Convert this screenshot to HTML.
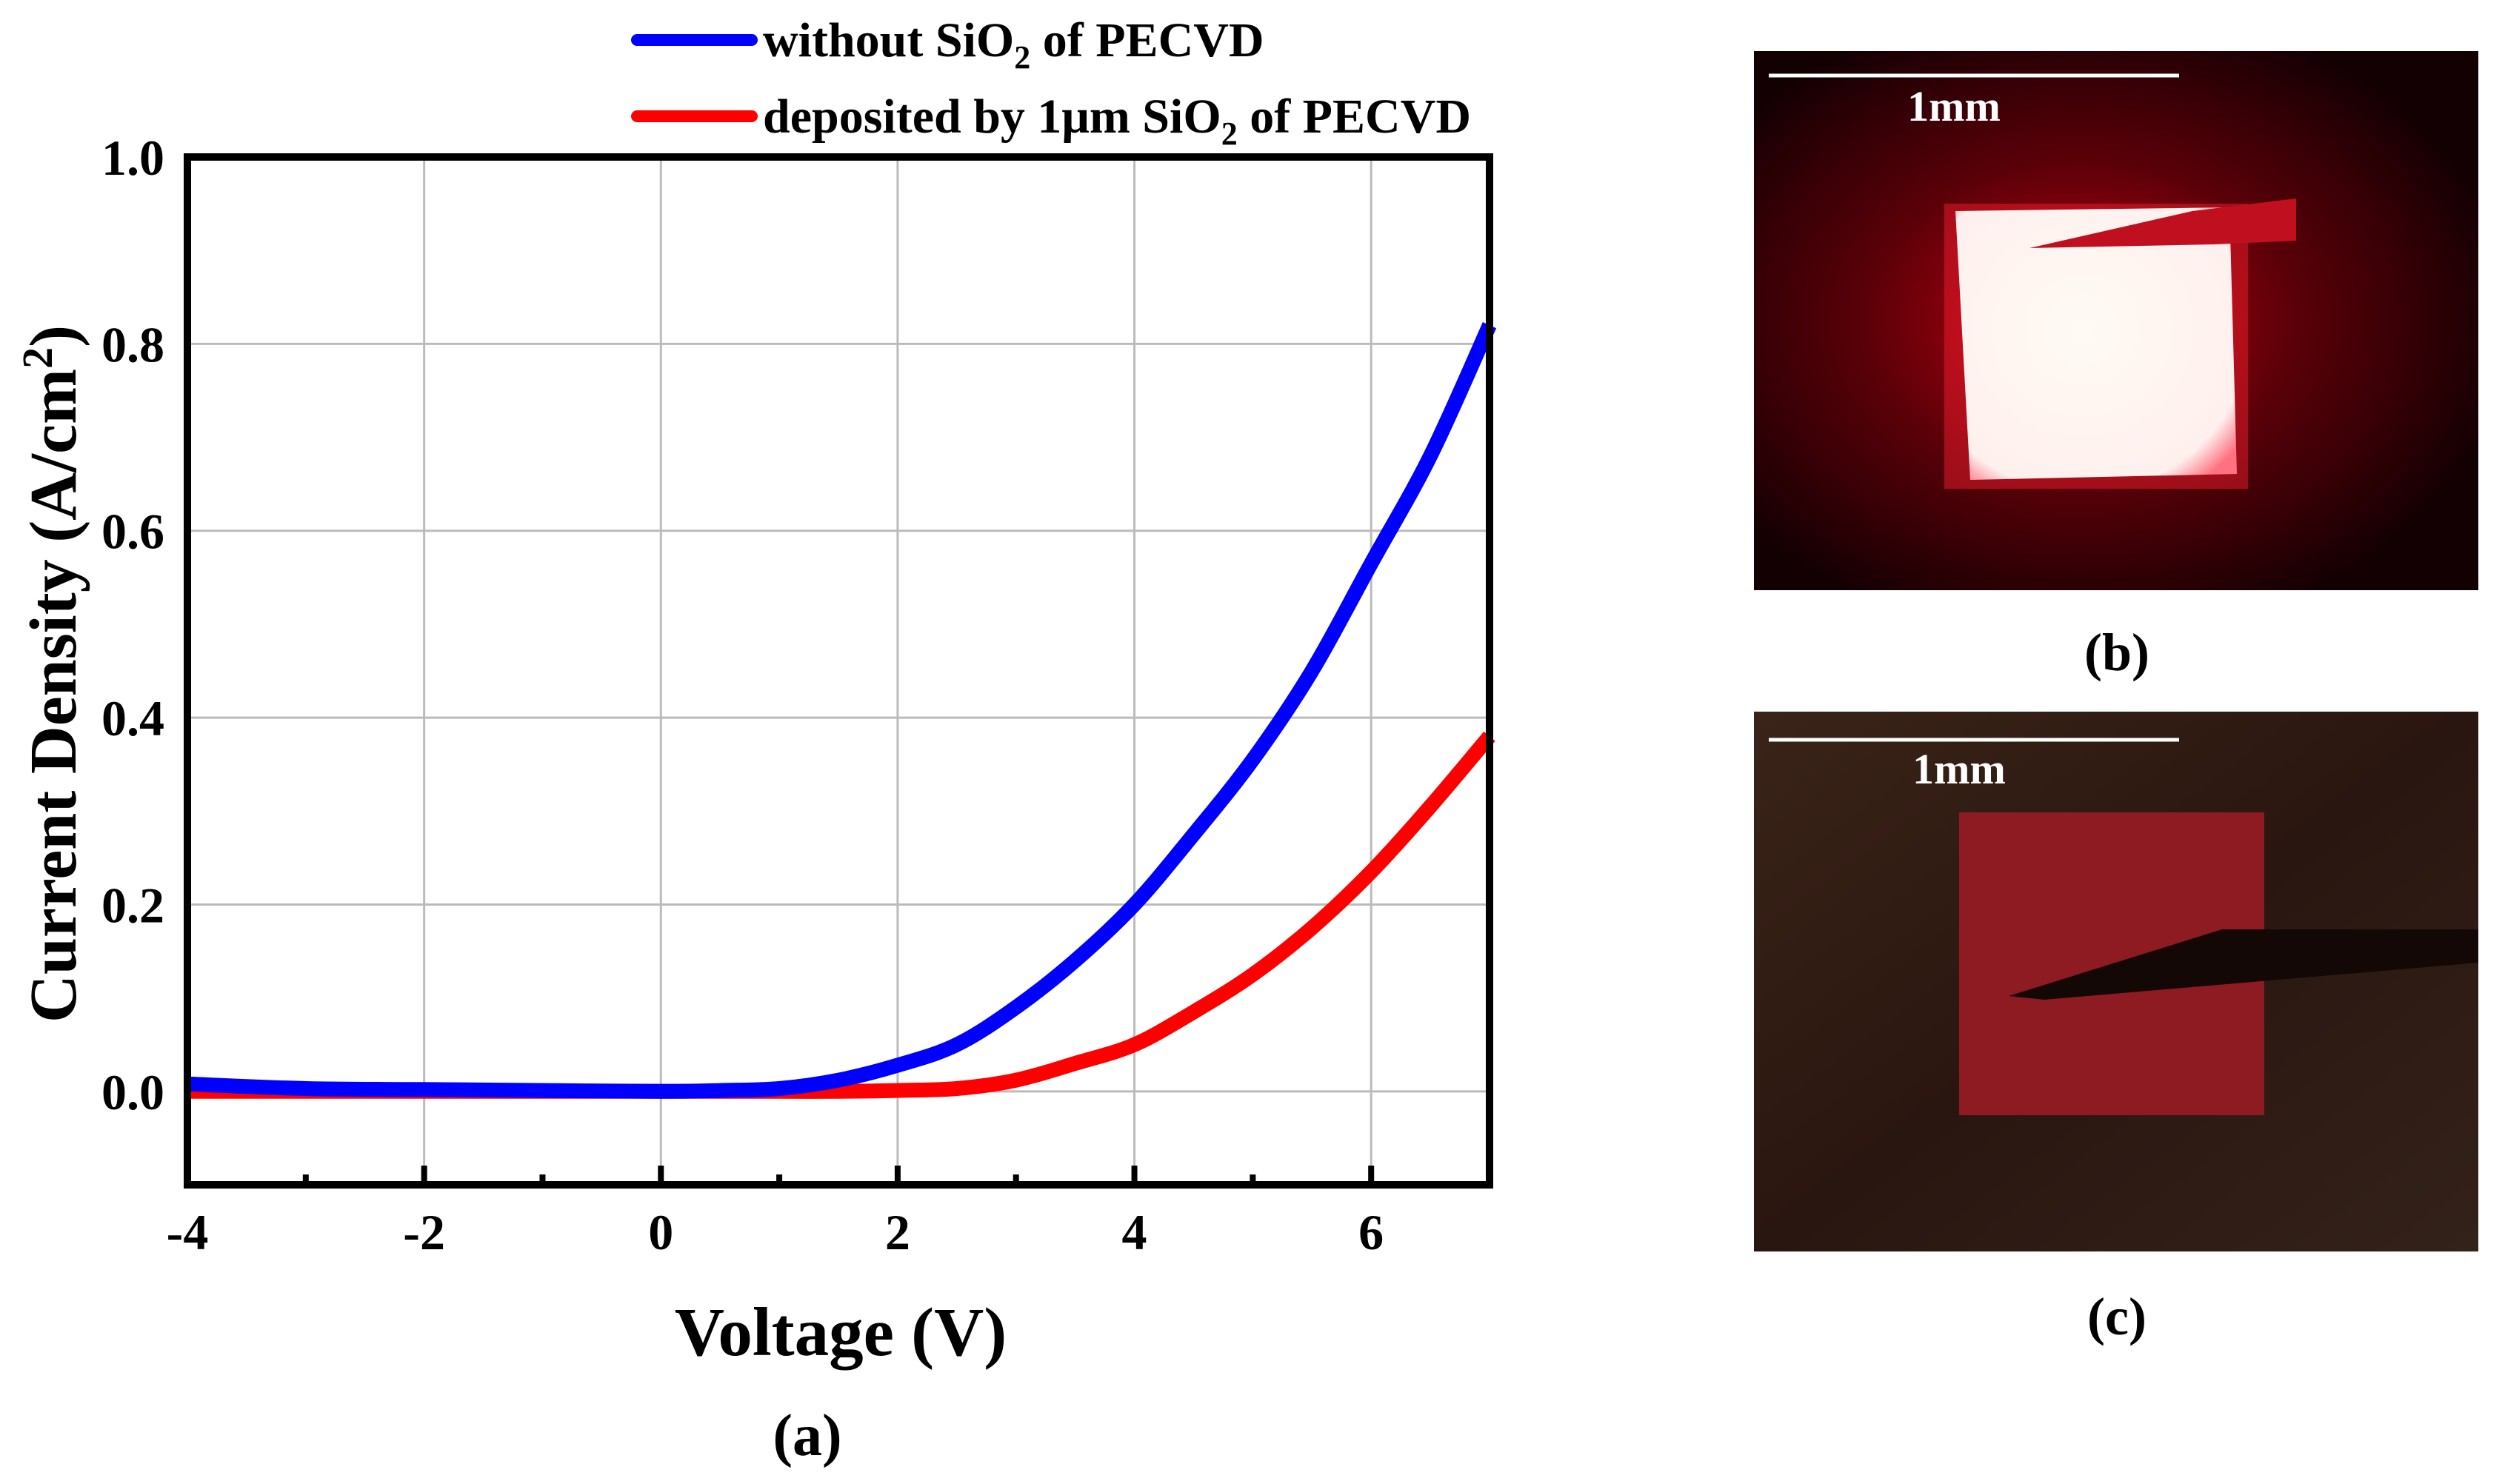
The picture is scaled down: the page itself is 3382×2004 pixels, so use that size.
<!DOCTYPE html>
<html><head><meta charset="utf-8"><style>
html,body{margin:0;padding:0;background:#fff;}
svg{display:block;}
text{font-family:"Liberation Serif",serif;font-weight:bold;}
</style></head><body>
<svg id="fig" width="3382" height="2004" viewBox="0 0 3382 2004" xmlns="http://www.w3.org/2000/svg">
<defs>
<radialGradient id="glowB" cx="0.45" cy="0.5" r="0.6">
<stop offset="0" stop-color="#c00010"/><stop offset="0.5" stop-color="#5a0008"/><stop offset="1" stop-color="#120003"/>
</radialGradient>
<radialGradient id="sqB" cx="0.45" cy="0.45" r="0.7">
<stop offset="0" stop-color="#fffaf4"/><stop offset="0.85" stop-color="#fff0ee"/><stop offset="1" stop-color="#ff7080"/>
</radialGradient>
<linearGradient id="bgC" x1="0" y1="0" x2="1" y2="1">
<stop offset="0" stop-color="#3a2418"/><stop offset="0.5" stop-color="#2a1610"/><stop offset="1" stop-color="#33221a"/>
</linearGradient>
</defs>
<g id="chart"></g>
<g>
<rect x="2368" y="69" width="978" height="728" fill="url(#glowB)"/>
<rect x="2625" y="275" width="410" height="385" fill="#ff2030" opacity="0.45"/>
<polygon points="2640,285 3010,280 3020,640 2660,648" fill="url(#sqB)"/>
<polygon points="2740,335 2960,285 3100,268 3100,325 2990,330" fill="#c01020"/>
<line x1="2388" y1="102" x2="2942" y2="102" stroke="#fff" stroke-width="5"/>
<text x="2638" y="163" font-size="58" fill="#fff" text-anchor="middle">1mm</text>
</g>
<text x="2858" y="905" font-size="72" text-anchor="middle" fill="#000">(b)</text>
<g>
<rect x="2368" y="961" width="978" height="729" fill="url(#bgC)"/>
<rect x="2645" y="1097" width="412" height="409" fill="#8e1a22"/>
<polygon points="2712,1345 3000,1255 3346,1255 3346,1300 2760,1350" fill="#140806"/>
<line x1="2388" y1="999" x2="2942" y2="999" stroke="#fff" stroke-width="5"/>
<text x="2645" y="1058" font-size="58" fill="#fff" text-anchor="middle">1mm</text>
</g>
<text x="2858" y="1802" font-size="72" text-anchor="middle" fill="#000">(c)</text>
</svg>
<script>
const voltage = [-4,-3,-2,-1,0,0.5,1,1.5,2,2.5,3,3.5,4,4.5,5,5.5,6,6.5,7];
const blueValues = [0.008,0.003,0.002,0.001,0,0.001,0.003,0.012,0.028,0.05,0.09,0.14,0.2,0.275,0.355,0.45,0.565,0.68,0.82];
const redValues = [0,0,0,0,0,0,0,0,0.001,0.003,0.012,0.03,0.05,0.085,0.125,0.175,0.235,0.305,0.38];
const xTicks = [-4,-2,0,2,4,6];
const xMinor = [-3,-1,1,3,5];
const yTicks = [0.0,0.2,0.4,0.6,0.8,1.0];
const yTickLabels = ["0.0","0.2","0.4","0.6","0.8","1.0"];

const NS="http://www.w3.org/2000/svg";
const L=253,R=2011,T=212,B=1600,xmin=-4,xmax=7,ymin=-0.1,ymax=1.0;
const sx=v=>L+(v-xmin)/(xmax-xmin)*(R-L);
const sy=v=>B-(v-ymin)/(ymax-ymin)*(B-T);
const g=document.getElementById('chart');
function mk(tag,attrs,parent){const e=document.createElementNS(NS,tag);for(const k in attrs)e.setAttribute(k,attrs[k]);(parent||g).appendChild(e);return e;}

xTicks.slice(1).forEach(v=>{const e=mk('line',{x1:sx(v),x2:sx(v),y1:T,y2:B,stroke:'#bbb','stroke-width':3});

});
yTicks.slice(0,5).forEach(v=>{const e=mk('line',{x1:L,x2:R,y1:sy(v),y2:sy(v),stroke:'#bbb','stroke-width':3});

});

function series(vals,color,name){
 const P=voltage.map((x,i)=>[sx(x),sy(vals[i])]);
 let d='M'+P[0][0].toFixed(1)+','+P[0][1].toFixed(1);
 for(let i=0;i<P.length-1;i++){
  const p0=P[Math.max(0,i-1)],p1=P[i],p2=P[i+1],p3=P[Math.min(P.length-1,i+2)];
  const c1=[p1[0]+(p2[0]-p0[0])/6,p1[1]+(p2[1]-p0[1])/6];
  const c2=[p2[0]-(p3[0]-p1[0])/6,p2[1]-(p3[1]-p1[1])/6];
  d+=' C'+c1.map(n=>n.toFixed(1)).join(',')+' '+c2.map(n=>n.toFixed(1)).join(',')+' '+p2.map(n=>n.toFixed(1)).join(',');
 }
 const p=mk('path',{d:d,fill:'none',stroke:color,'stroke-width':20,'stroke-linejoin':'round'});
 
 
}
series(redValues,'#ff0000','series-deposited-sio2');
series(blueValues,'#0000ff','series-without-sio2');

const fr=mk('rect',{x:L,y:T,width:R-L,height:B-T,fill:'none',stroke:'#000','stroke-width':10});



xTicks.forEach(v=>{
 const t=mk('line',{x1:sx(v),x2:sx(v),y1:B,y2:B-26,stroke:'#000','stroke-width':8});
 
 
 const l=mk('text',{x:sx(v),y:1687,'font-size':68,'text-anchor':'middle'});
 l.textContent=String(v);
 
 
});
xMinor.forEach(v=>{const t=mk('line',{x1:sx(v),x2:sx(v),y1:B,y2:B-14,stroke:'#000','stroke-width':8});

});
yTicks.forEach((v,i)=>{
 const l=mk('text',{x:222,y:sy(v)+24,'font-size':68,'text-anchor':'end'});
 l.textContent=yTickLabels[i];
 
 
});

const xt=mk('text',{x:1135,y:1830,'font-size':93,'text-anchor':'middle'});
xt.textContent='Voltage (V)';


const yt=mk('text',{x:0,y:0,'font-size':90,'text-anchor':'middle',transform:'translate(102,910) rotate(-90)'});
yt.innerHTML='Current Density (A/cm<tspan font-size="58" dy="-32">2</tspan><tspan dy="32">)</tspan>';


const pa=mk('text',{x:1090,y:1965,'font-size':80,'text-anchor':'middle'});
pa.textContent='(a)';



function legend(y,color,html,name){
 const ln=mk('line',{x1:860,x2:1015,y1:y,y2:y,stroke:color,'stroke-width':16,'stroke-linecap':'round'});
 
 
 const t=mk('text',{x:1030,y:y+22,'font-size':66});
 t.innerHTML=html;
 
 
}
legend(54,'#0000ff','without SiO<tspan font-size="44" dy="16">2</tspan><tspan dy="-16"> of PECVD</tspan>','legend-entry-without-sio2');
legend(157,'#ff0000','deposited by 1μm SiO<tspan font-size="44" dy="16">2</tspan><tspan dy="-16"> of PECVD</tspan>','legend-entry-deposited-sio2');
</script>
</body></html>
